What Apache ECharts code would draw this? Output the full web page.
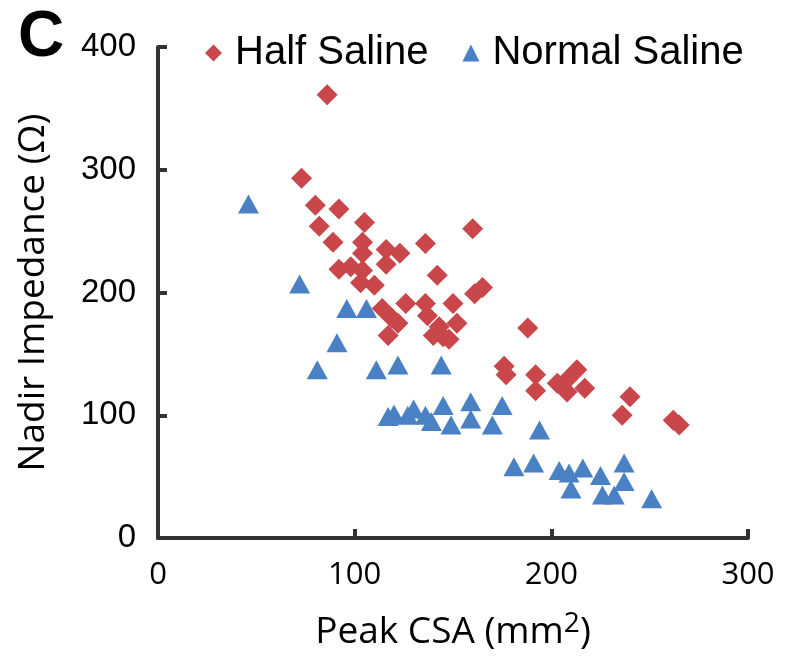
<!DOCTYPE html>
<html><head><meta charset="utf-8">
<script src="https://cdn.jsdelivr.net/npm/echarts@6/dist/echarts.min.js"></script>
<style>html,body{margin:0;padding:0;background:#fff}#c{width:788px;height:660px}</style>
</head><body><div id="c"></div>
<script>
var panelLabel = "C";
var xTitle = "Peak CSA (mm";
var xTitleSup = "2";
var xTitleEnd = ")";
var yTitle = "Nadir Impedance (\u03A9)";
var seriesNames = ["Half Saline", "Normal Saline"];
var xTicks = [0, 100, 200, 300];
var yTicks = [0, 100, 200, 300, 400];

var halfSaline = [
  [86,361],[73,293],[80,271],[92,268],[82,254],[105,257],[89,241],[104,241],
  [104,232],[116,235],[123,232],[116,223],[92,219],[98,221],[104,218],[103,208],
  [110,206],[114,187],[126,191],[119,179],[117,165],[122,175],[136,240],[142,214],
  [165,204],[161,199],[150,191],[136,191],[137,181],[143,172],[152,175],[145,164],
  [140,165],[148,162],[160,252],[188,171],[176,140],[177,133],[192,133],[192,120],
  [203,126],[208,129],[213,137],[217,122],[208,119],[240,115],[236,100],[262,96],[265,92]
];
var normalSaline = [
  [46,272],[72,207],[91,159],[96,187],[106,187],[81,137],[111,137],[122,141],
  [144,141],[117,99],[120,101],[130,105],[127,100],[136,100],[139,95],[145,108],
  [149,92],[159,111],[159,97],[175,108],[170,92],[194,88],[181,58],[191,61],
  [204,55],[209,53],[216,57],[210,40],[225,51],[237,61],[237,46],[232,35],[226,35],[251,32]
];

var chart = echarts.init(document.getElementById('c'), null, {renderer:'canvas'});
var axisColor = '#333333';
chart.setOption({
  animation: false,
  backgroundColor: '#ffffff',
  graphic: [{type:'text', left: 18, top: 6, style:{text: panelLabel, font:'bold 64px "Liberation Sans"', fill:'#000'}}],
  legend: {
    top: 28, left: 200, itemWidth: 17, itemHeight: 17, itemGap: 34,
    textStyle: {fontFamily:'Liberation Sans', fontSize: 40, color:'#000', padding:[0,0,0,8]},
    data: [{name: seriesNames[0], icon:'diamond'}, {name: seriesNames[1], icon:'triangle'}]
  },
  grid: {left: 158, right: 40, top: 47, bottom: 122, containLabel: false},
  xAxis: {
    type:'value', min: xTicks[0], max: xTicks[xTicks.length-1], interval: 100,
    axisLine:{lineStyle:{color:axisColor, width:4}},
    axisTick:{inside:true, length:9, lineStyle:{color:axisColor, width:4}},
    splitLine:{show:false},
    axisLabel:{fontFamily:'Open Sans', fontSize:31, color:'#000', margin:22},
    name: xTitle + '{sup|' + xTitleSup + '}' + xTitleEnd, nameLocation:'middle', nameGap: 72,
    nameTextStyle:{fontFamily:'Open Sans', fontSize:37, color:'#000',
      rich:{sup:{fontFamily:'Open Sans', fontSize:28, verticalAlign:'top', padding:[0,0,16,0], color:'#000'}}}
  },
  yAxis: {
    type:'value', min: yTicks[0], max: yTicks[yTicks.length-1], interval: 100,
    axisLine:{lineStyle:{color:axisColor, width:4}},
    axisTick:{inside:true, length:9, lineStyle:{color:axisColor, width:4}},
    splitLine:{show:false},
    axisLabel:{fontFamily:'Liberation Sans', fontSize:33, color:'#000', margin:22},
    name: yTitle, nameLocation:'middle', nameRotate:90, nameGap: 106,
    nameTextStyle:{fontFamily:'Open Sans', fontSize:37, color:'#000'}
  },
  series: [
    {name: seriesNames[0], type:'scatter', symbol:'diamond', symbolSize:[21,21],
     itemStyle:{color:'#C9464A', opacity:1}, data: halfSaline},
    {name: seriesNames[1], type:'scatter', symbol:'triangle', symbolSize:[21,19],
     itemStyle:{color:'#4A80C4', opacity:1}, data: normalSaline}
  ]
});
</script></body></html>
